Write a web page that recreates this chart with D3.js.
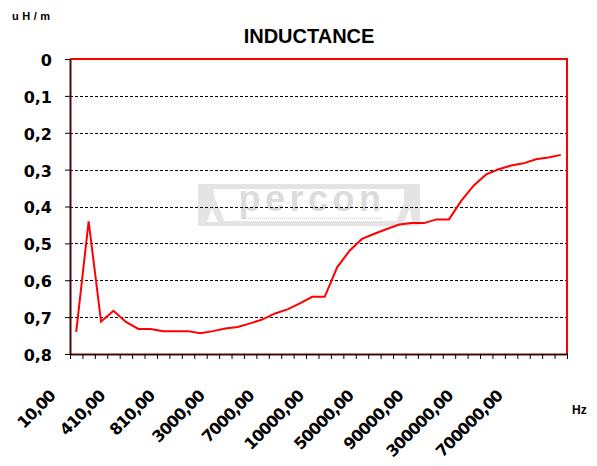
<!DOCTYPE html>
<html><head><meta charset="utf-8">
<script src="https://cdn.jsdelivr.net/npm/d3@7/dist/d3.min.js"></script>
<style>body{margin:0;background:#fff;} svg{display:block;background:#fff}</style>
</head><body><svg id="c" width="597" height="466"></svg>
<script>
// ---- data ----
const categories = ["10","110","210","310","410","510","610","710","810","910",
  "1000","2000","3000","4000","5000","6000","7000","8000","9000","9500",
  "10000","20000","30000","40000","50000","60000","70000","80000","90000","100000",
  "150000","200000","300000","400000","500000","600000","700000","800000","900000","1000000"];
const inductance = [0.740,0.440,0.712,0.683,0.713,0.732,0.732,0.738,0.738,0.738,
  0.744,0.738,0.731,0.727,0.717,0.706,0.690,0.679,0.663,0.645,
  0.645,0.565,0.520,0.488,0.474,0.461,0.449,0.445,0.445,0.435,
  0.435,0.384,0.343,0.313,0.299,0.289,0.283,0.272,0.267,0.260];
const yTicks = [0,0.1,0.2,0.3,0.4,0.5,0.6,0.7,0.8];
const labelEvery = 4;
const title = "INDUCTANCE";
const yUnit = "uH/m";
const xUnit = "Hz";

// ---- layout ----
const L = 70, R = 567, T = 59, B = 354;
const svg = d3.select("#c");
const x = d3.scaleBand().domain(categories).range([L, R]).padding(0);
const xi = d3.scaleLinear().domain([0, categories.length]).range([L, R]);
const y = d3.scaleLinear().domain([0, 0.8]).range([T, B]);
const fmt = d => d === 0 ? "0" : d3.format(".1f")(d).replace(".", ",");

// watermark (light grey logo)
const wm = svg.append("g");
const g1 = "#e4e4e4";
wm.append("rect").attr("x", 198).attr("y", 184).attr("width", 222).attr("height", 42).attr("fill", g1);
wm.append("path").attr("d", "M214,189 L404,189 L404,221 L214,221 Z").attr("fill", "#fff");
wm.append("path").attr("d", "M200,222 L212,192 L225,222 Z").attr("fill", g1);
wm.append("path").attr("d", "M207,222 L212,209 L218,222 Z").attr("fill", "#fff");
wm.append("path").attr("d", "M396,222 L410,189 L418,189 L418,222 Z").attr("fill", g1);
wm.append("path").attr("d", "M404,222 L410,208 L412,222 Z").attr("fill", "#fff");
wm.append("text").attr("x", 312).attr("y", 211).attr("text-anchor", "middle")
  .attr("font-family", "Liberation Sans, Arial, sans-serif").attr("font-weight", "bold")
  .attr("font-size", 36).attr("letter-spacing", 4.5).attr("fill", "#dcdcdc").text("percon");
wm.append("line").attr("x1", 242).attr("x2", 382).attr("y1", 218.5).attr("y2", 218.5)
  .attr("stroke", "#d8d8d8").attr("stroke-width", 1.5).attr("stroke-dasharray", "1,1");

// gridlines
svg.append("g").selectAll("line").data(yTicks.filter(d => d < 0.8)).join("line")
  .attr("x1", L).attr("x2", R)
  .attr("y1", d => Math.round(y(d)) + 0.5).attr("y2", d => Math.round(y(d)) + 0.5)
  .attr("stroke", "#000").attr("stroke-width", 1).attr("stroke-dasharray", "3,2");

// red frame (top & right)
svg.append("line").attr("x1", L).attr("x2", R + 1).attr("y1", T).attr("y2", T)
  .attr("stroke", "#ff0000").attr("stroke-width", 2);
svg.append("line").attr("x1", R).attr("x2", R).attr("y1", T).attr("y2", B)
  .attr("stroke", "#ff0000").attr("stroke-width", 2);

// y axis
const yAxis = svg.append("g").attr("transform", `translate(${L},0)`)
  .call(d3.axisLeft(y).tickValues(yTicks).tickFormat(fmt).tickSize(5).tickSizeOuter(0).tickPadding(13));
yAxis.select(".domain").attr("stroke", "#4a0808").attr("stroke-width", 2);
yAxis.selectAll(".tick line").attr("stroke", "#000");
yAxis.selectAll(".tick text").attr("font-family", "DejaVu Sans, sans-serif")
  .attr("font-weight", "bold").attr("font-size", 16).attr("fill", "#000").attr("dy", "0.4em");

// x axis ticks at category boundaries
const xAxis = svg.append("g").attr("transform", `translate(0,${B})`)
  .call(d3.axisBottom(xi).tickValues(d3.range(categories.length + 1)).tickFormat("").tickSize(5).tickSizeOuter(0));
xAxis.select(".domain").attr("stroke", "#4a0808").attr("stroke-width", 2);
xAxis.selectAll(".tick line").attr("stroke", "#000");

// x labels
svg.append("g").selectAll("text")
  .data(categories.filter((d, i) => i % labelEvery === 0)).join("text")
  .attr("transform", d => `translate(${x(d) + x.bandwidth() / 2 - 20},397) rotate(-45)`)
  .attr("text-anchor", "end")
  .attr("font-family", "DejaVu Sans, sans-serif").attr("font-weight", "bold").attr("font-size", 16)
  .attr("letter-spacing", -1)
  .attr("fill", "#000")
  .text(d => d + ",00");

// line
svg.append("path").datum(inductance)
  .attr("fill", "none").attr("stroke", "#ff0000").attr("stroke-width", 2)
  .attr("d", d3.line().x((d, i) => x(categories[i]) + x.bandwidth() / 2).y(d => y(d)));

// texts
svg.append("text").attr("x", 309).attr("y", 43).attr("text-anchor", "middle")
  .attr("font-family", "Liberation Sans, Arial, sans-serif").attr("font-weight", "bold")
  .attr("font-size", 20).attr("fill", "#000").text(title);
svg.append("text").attr("x", 12).attr("y", 20)
  .attr("font-family", "Liberation Sans, Arial, sans-serif").attr("font-weight", "bold")
  .attr("font-size", 11).attr("letter-spacing", 3.5).attr("fill", "#000").text(yUnit);
svg.append("text").attr("x", 572).attr("y", 414)
  .attr("font-family", "Liberation Sans, Arial, sans-serif").attr("font-weight", "bold")
  .attr("font-size", 12).attr("fill", "#000").text(xUnit);
</script></body></html>
